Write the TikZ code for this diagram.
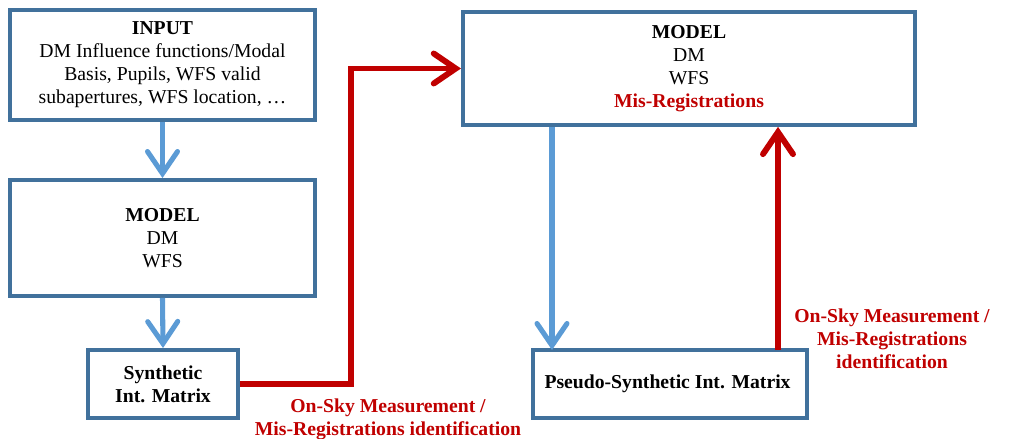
\documentclass[tikz,border=0pt]{standalone}
\usepackage{fontspec}
\setmainfont{Liberation Serif}
\usepackage{tikz}
\definecolor{boxBlue}{RGB}{65, 113, 156}
\definecolor{arrowBlue}{RGB}{91, 155, 213}
\definecolor{darkRed}{RGB}{192, 0, 0}
\usetikzlibrary{arrows.meta, positioning}

\tikzset{
    boxnode/.style={
        rectangle,
        draw=boxBlue,
        line width=2.8pt,
        fill=white,
        align=center,
        inner sep=0pt,
        font=\fontsize{14}{16.4}\selectfont
    },
    bluearrow/.style={
        draw=arrowBlue,
        line width=3.6pt,
        -{Straight Barb[length=5.5mm, width=7.5mm, line cap=round]}
    },
    redarrow/.style={
        draw=darkRed,
        line width=4.2pt,
        -{Straight Barb[length=5.5mm, width=7.5mm, line cap=round]}
    },
    redlabel/.style={
        text=darkRed,
        align=center,
        inner sep=0pt,
        font=\fontsize{14}{16.4}\selectfont\bfseries
    }
}

\begin{document}
\begin{tikzpicture}[x=0.025cm, y=-0.025cm]
    \useasboundingbox (0,0) rectangle (1014,439);

    % boxes
    \node[boxnode, minimum width=7.62cm, minimum height=2.75cm] (input) at (162.5,65) {
        \textbf{INPUT}\\
        DM Influence functions/Modal\\
        Basis, Pupils, WFS valid\\
        subapertures, WFS location, \dots
    };
    \node[boxnode, minimum width=7.62cm, minimum height=2.9cm] (modelL) at (162.5,238) {
        \textbf{MODEL}\\
        DM\\
        WFS
    };
    \node[boxnode, minimum width=3.75cm, minimum height=1.7cm] (synth) at (163,384) {
        \textbf{Synthetic}\\
        \textbf{Int. Matrix}
    };
    \node[boxnode, minimum width=11.3cm, minimum height=2.82cm] (modelR) at (689,68.5) {
        \textbf{MODEL}\\
        DM\\
        WFS\\
        \textcolor{darkRed}{\textbf{Mis-Registrations}}
    };
    \node[boxnode, minimum width=6.85cm, minimum height=1.7cm] (pseudo) at (670,384) {
        \textbf{Pseudo-Synthetic Int. Matrix}
    };

    % connectors
    \coordinate (bend) at (351,68.5);
    \coordinate (pdown) at (552,350);
    \coordinate (pup) at (778,350);

    \draw[bluearrow] (input.south) -- (modelL.north);
    \draw[bluearrow] (modelL.south) -- (synth.north);
    \draw[redarrow] (synth.east) -| (bend) -- (modelR.west);
    \draw[bluearrow] (modelR.south -| pdown) -- (pdown);
    \draw[redarrow] (pup) -- (modelR.south -| pup);

    % labels
    \node[redlabel] (labelL) at (388,419) {On-Sky Measurement /\\Mis-Registrations identification};
    \node[redlabel] (labelR) at (892,339) {On-Sky Measurement /\\Mis-Registrations\\identification};
\end{tikzpicture}
\end{document}
